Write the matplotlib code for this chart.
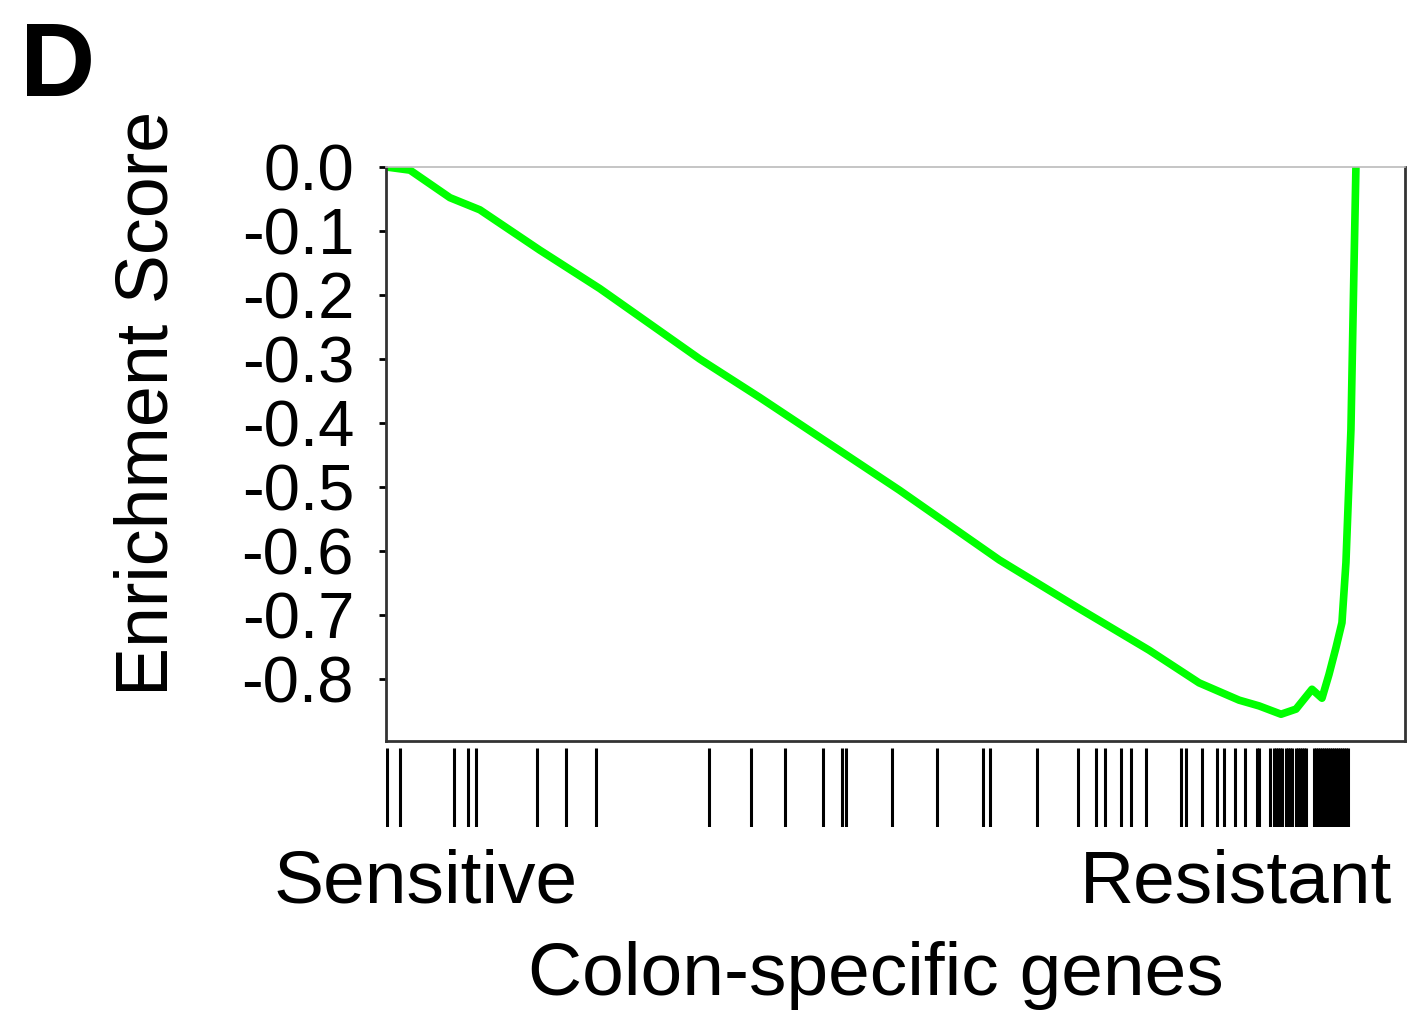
import matplotlib.pyplot as plt

plt.rcParams['font.family'] = ['Liberation Sans', 'DejaVu Sans']

# running enrichment score, sampled along the ranked gene list (rank 0..1020)
es_rank = [0, 24, 64, 94, 154, 214, 314, 374, 514, 614, 694, 764, 814, 854,
           874, 896, 911, 927, 937, 944, 951, 957, 959, 961, 966, 969, 971]
es_value = [0.0, -0.005, -0.048, -0.067, -0.13, -0.19, -0.30, -0.36, -0.505,
            -0.614, -0.69, -0.755, -0.806, -0.833, -0.842, -0.855, -0.847,
            -0.816, -0.830, -0.793, -0.751, -0.712, -0.665, -0.618, -0.41,
            -0.16, 0.0]

# positions of the gene set members in the ranked list
hit_rank = [1, 14, 68, 82, 90, 151, 180, 210, 323, 365, 399, 437, 456, 461,
            507, 552, 598, 605, 652, 693, 711, 720, 736, 746, 761, 796, 801,
            817, 832, 839, 850, 860, 872, 874, 885, 889, 891, 893, 895, 897,
            901, 903, 905, 907, 911, 913, 915, 917, 919, 921, 929, 931, 933,
            935, 937, 939, 941, 943, 945, 947, 949, 951, 953, 955, 957, 959,
            961, 963]

n_genes = 1020
y_ticks = [0.0, -0.1, -0.2, -0.3, -0.4, -0.5, -0.6, -0.7, -0.8]

fig = plt.figure(figsize=(14.27, 10.18), dpi=100)
ax = fig.add_axes([0.2705, 0.272, 0.714, 0.564])
ax.plot(es_rank, es_value, color='#00ff00', lw=5.5, solid_capstyle='round')
ax.set_xlim(0, n_genes)
ax.set_ylim(-0.897, 0.0)
ax.set_yticks(y_ticks)
ax.set_yticklabels([f"{v:.1f}" for v in y_ticks], fontsize=47)
ax.tick_params(axis='y', direction='out', length=5, width=2, pad=18, colors='black')
ax.tick_params(axis='x', bottom=False, labelbottom=False)
for side in ['left', 'bottom', 'right']:
    ax.spines[side].set_color('#333333')
    ax.spines[side].set_linewidth(2)
ax.spines['top'].set_color('#bbbbbb')
ax.spines['top'].set_linewidth(1.2)

hx = fig.add_axes([0.2705, 0.188, 0.714, 0.077])
hx.vlines(hit_rank, 0, 1, color='black', lw=2.2)
hx.set_xlim(0, n_genes)
hx.set_ylim(0, 1)
hx.axis('off')

fig.text(0.1037, 0.604, "Enrichment Score", fontsize=53, rotation=90,
         ha='center', va='center')
fig.text(0.2985, 0.133, "Sensitive", fontsize=54, ha='center', va='center')
fig.text(0.866, 0.133, "Resistant", fontsize=54, ha='center', va='center')
fig.text(0.614, 0.042, "Colon-specific genes", fontsize=54, ha='center', va='center')
fig.text(0.014, 0.932, "D", fontsize=75, fontweight='bold', ha='left', va='center')

fig.savefig("out.png", dpi=100)
